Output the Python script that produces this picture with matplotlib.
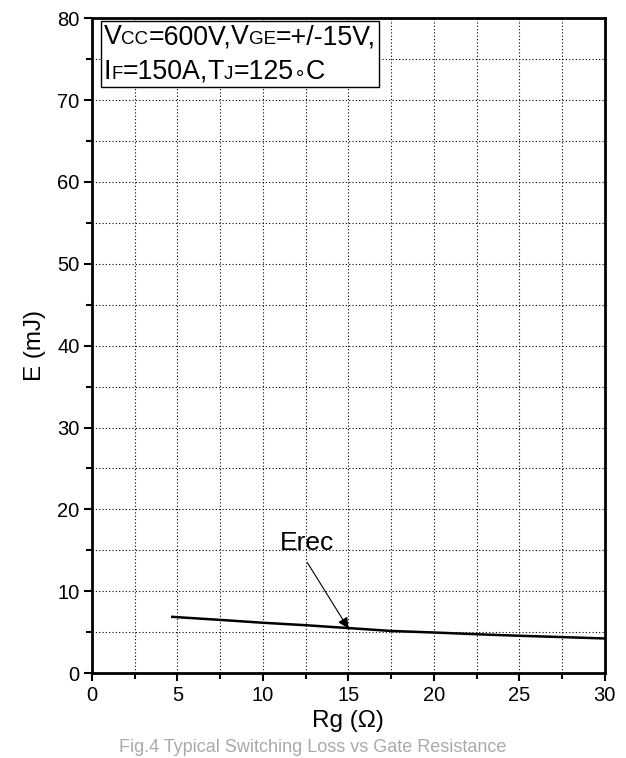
import matplotlib
matplotlib.use("Agg")
import matplotlib.pyplot as plt
from matplotlib.ticker import MultipleLocator
from matplotlib.offsetbox import TextArea, HPacker, VPacker, AnchoredOffsetbox

plt.rcParams['font.family'] = ['Liberation Sans', 'DejaVu Sans']

# === data ===
rg = [4.7, 7.5, 10, 12.5, 15, 17.5, 20, 22.5, 25, 27.5, 30]
erec = [6.87, 6.5, 6.15, 5.85, 5.5, 5.15, 4.96, 4.75, 4.56, 4.4, 4.23]

x_ticks = [0, 5, 10, 15, 20, 25, 30]
y_ticks = [0, 10, 20, 30, 40, 50, 60, 70, 80]

fig = plt.figure(figsize=(6.26, 7.58), dpi=100)
ax = fig.add_axes([0.147, 0.112, 0.819, 0.864])

ax.plot(rg, erec, color='black', lw=1.8)

ax.set_xlim(0, 30)
ax.set_ylim(0, 80)
ax.set_xticks(x_ticks)
ax.set_yticks(y_ticks)
ax.xaxis.set_minor_locator(MultipleLocator(2.5))
ax.yaxis.set_minor_locator(MultipleLocator(5))
ax.tick_params(which='major', direction='out', length=6, width=1.5, labelsize=14.5, pad=3)
ax.tick_params(which='minor', direction='out', length=4, width=1.5)
for s in ax.spines.values():
    s.set_linewidth(2)

ax.grid(which='both', linestyle=(0, (1, 2)), color='black', lw=0.8)

ax.set_xlabel('Rg (\u03a9)', fontsize=17.5, labelpad=4)
ax.set_ylabel('E (mJ)', fontsize=17.5, labelpad=8)

# === annotation: label with arrow starting just under it ===
ax.text(12.6, 15.9, 'Erec', fontsize=19, ha='center', va='center')
ax.annotate('', xy=(15.0, 5.45), xytext=(12.6, 13.5),
            arrowprops=dict(arrowstyle='-|>', color='black', lw=0.8,
                            mutation_scale=16, shrinkA=0, shrinkB=0))

# === condition box: big letters with small-cap subscripts ===
big, small = 19.3, 13.5
lines = [
    [('V', big), ('CC', small), ('=600V,', big), ('V', big), ('GE', small), ('=+/-15V,', big)],
    [('I', big), ('F', small), ('=150A,', big), ('T', big), ('J', small), ('=125', big),
     ('\u2218', 14), ('C', big)],
]
rows = []
for parts in lines:
    areas = [TextArea(t, textprops=dict(fontsize=sz, family=['Liberation Sans', 'DejaVu Sans']))
             for t, sz in parts]
    rows.append(HPacker(children=areas, align='baseline', pad=0, sep=0))
stack = VPacker(children=rows, align='left', pad=0, sep=6)
cond = AnchoredOffsetbox(loc='upper left', child=stack, pad=0.2, borderpad=0,
                         frameon=True, bbox_to_anchor=(0.017, 0.995),
                         bbox_transform=ax.transAxes)
cond.patch.set_boxstyle('square', pad=0)
cond.patch.set_linewidth(1)
cond.patch.set_edgecolor('black')
cond.zorder = 6
ax.add_artist(cond)

# caption of the scanned page
fig.text(0.5, 0.002, 'Fig.4 Typical Switching Loss vs Gate Resistance',
         ha='center', va='bottom', fontsize=13, color='#aaaaaa')

fig.savefig('out.png', dpi=100)
